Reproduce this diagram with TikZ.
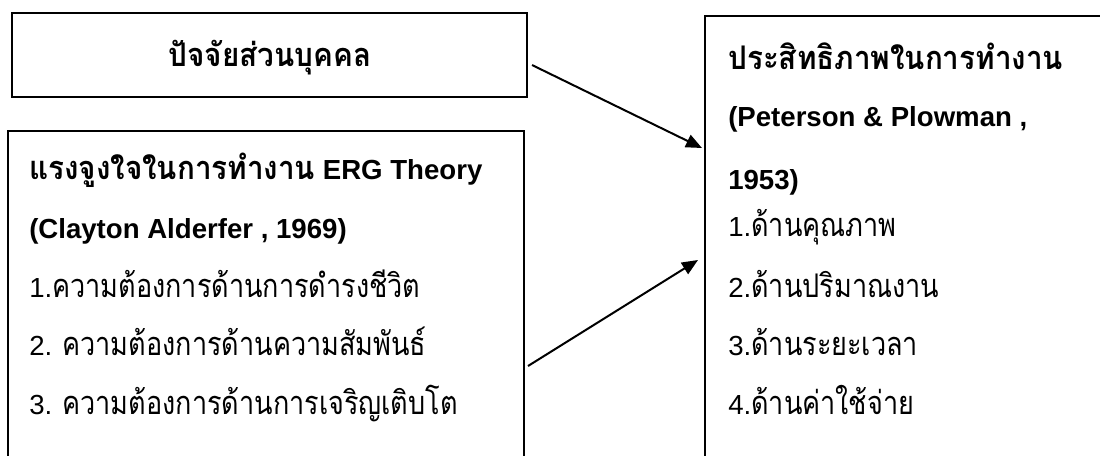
\documentclass[tikz,border=0pt]{standalone}
\usepackage{fontspec}
\setmainfont{Liberation Sans}
\newfontfamily\thai[Script=Thai, Scale=1.18, FakeStretch=0.83]{Loma}
\newfontfamily\thaib[Script=Thai, Scale=1.18, FakeStretch=0.91]{Loma}
\usetikzlibrary{arrows.meta,fit}
\begin{document}
\begin{tikzpicture}[x=0.75pt,y=-0.75pt,
  box/.style={draw=black, line width=0.8pt, inner sep=0pt},
  txt/.style={anchor=base west, inner sep=0pt, font=\fontsize{20.7}{24}\selectfont},
  btxt/.style={anchor=base west, inner sep=0pt, font=\fontsize{20.7}{24}\selectfont\bfseries},
  conn/.style={line width=1.5pt, -{Triangle[length=12pt,width=10pt]}}]
\useasboundingbox (0,0) rectangle (1100,455);
\clip (0,0) rectangle (1100,455);
% boxes
\node[box, fit={(12,13) (527,97)}] (b1) {};
\node[box, fit={(8,131) (524,470)}] (b2) {};
\node[box, fit={(705,16) (1120,470)}] (b3) {};
% box 1 text
\node[anchor=base, inner sep=0pt, font=\fontsize{20.7}{24}\selectfont\bfseries] (t1) at (270,66) {\thaib ปัจจัยส่วนบุคคล};
% box 2 text
\node[btxt] (t21) at (29,179) {{\thaib แรงจูงใจในการทำงาน} ERG Theory};
\node[btxt] (t22) at (29,238) {(Clayton Alderfer , 1969)};
\node[txt] (t23) at (29,297) {1.{\thai ความต้องการด้านการดำรงชีวิต}};
\node[txt] (t24) at (29,355) {2. {\thai ความต้องการด้านความสัมพันธ์}};
\node[txt] (t25) at (29,414) {3. {\thai ความต้องการด้านการเจริญเติบโต}};
% box 3 text
\node[btxt] (t31) at (728,69) {\thaib ประสิทธิภาพในการทำงาน};
\node[btxt] (t32) at (728,126) {(Peterson \& Plowman ,};
\node[btxt] (t33) at (728,189) {1953)};
\node[txt] (t34) at (728,236) {1.{\thai ด้านคุณภาพ}};
\node[txt] (t35) at (728,297) {2.{\thai ด้านปริมาณงาน}};
\node[txt] (t36) at (728,355) {3.{\thai ด้านระยะเวลา}};
\node[txt] (t37) at (728,414) {4.{\thai ด้านค่าใช้จ่าย}};
% connectors
\coordinate (a1s) at (532,65);
\coordinate (a1e) at (702,148);
\coordinate (a2s) at (528,366);
\coordinate (a2e) at (698,260);
\draw[conn] (a1s) -- (a1e);
\draw[conn] (a2s) -- (a2e);
\end{tikzpicture}
\end{document}
